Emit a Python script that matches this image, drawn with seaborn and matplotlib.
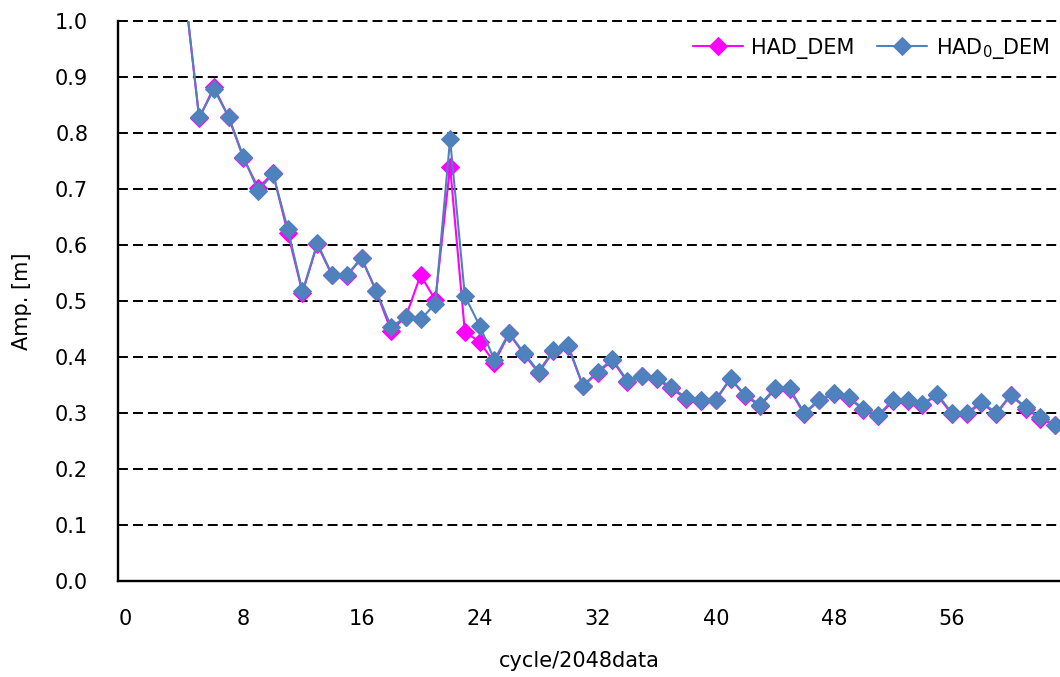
import numpy as np
import pandas as pd
import matplotlib
matplotlib.use("Agg")
import matplotlib.pyplot as plt
import seaborn as sns

# cycle index (0..63) and amplitude [m] of the two estimates
cycles = list(range(64))
had_dem = [2.90, 2.10, 1.60, 1.25, 1.06,
           0.826, 0.882, 0.828, 0.755, 0.702, 0.728, 0.622, 0.515, 0.601, 0.546,
           0.545, 0.576, 0.517, 0.447, 0.472, 0.546, 0.502, 0.740, 0.445, 0.427,
           0.390, 0.442, 0.405, 0.372, 0.410, 0.419, 0.348, 0.372, 0.394, 0.356,
           0.366, 0.360, 0.344, 0.325, 0.321, 0.323, 0.361, 0.330, 0.313, 0.342,
           0.342, 0.298, 0.323, 0.334, 0.327, 0.306, 0.294, 0.321, 0.321, 0.315,
           0.332, 0.298, 0.298, 0.318, 0.298, 0.332, 0.308, 0.290, 0.278]
had0_dem = [2.90, 2.10, 1.60, 1.25, 1.06,
            0.828, 0.878, 0.829, 0.757, 0.697, 0.727, 0.629, 0.517, 0.603, 0.547,
            0.546, 0.577, 0.518, 0.454, 0.471, 0.467, 0.495, 0.789, 0.509, 0.456,
            0.395, 0.443, 0.407, 0.374, 0.412, 0.421, 0.349, 0.374, 0.396, 0.358,
            0.366, 0.362, 0.346, 0.327, 0.323, 0.324, 0.362, 0.332, 0.315, 0.344,
            0.344, 0.300, 0.324, 0.335, 0.328, 0.308, 0.296, 0.323, 0.323, 0.316,
            0.334, 0.300, 0.300, 0.320, 0.300, 0.333, 0.310, 0.292, 0.279]
xtick_labels = ["0", "8", "16", "24", "32", "40", "48", "56"]
yticks = [0.0, 0.1, 0.2, 0.3, 0.4, 0.5, 0.6, 0.7, 0.8, 0.9, 1.0]

sns.set_style("white")
plt.rcParams["font.family"] = ["DejaVu Sans"]
plt.rcParams["mathtext.fontset"] = "dejavusans"
for key in ["text.color", "axes.labelcolor", "xtick.color", "ytick.color"]:
    plt.rcParams[key] = "black"

FS = 15
MAGENTA = "#FF00FF"
BLUE = "#4F81BD"

fig = plt.figure(figsize=(10.60, 6.77), dpi=100)
W, H = 1060, 677
x0, x1 = 118, 1062.6
y0, y1 = 21, 581
ax = fig.add_axes([x0 / W, 1 - y1 / H, (x1 - x0) / W, (y1 - y0) / H])

df = pd.DataFrame({"cycle": cycles, "HAD_DEM": had_dem, "HAD0_DEM": had0_dem})

sns.lineplot(data=df, x="cycle", y="HAD_DEM", ax=ax, color=MAGENTA, lw=1.5,
             marker="D", markersize=9.5, markeredgecolor=MAGENTA,
             markerfacecolor=MAGENTA, label="HAD_DEM", zorder=3)
sns.lineplot(data=df, x="cycle", y="HAD0_DEM", ax=ax, color=BLUE, lw=1.5,
             marker="D", markersize=9.5, markeredgecolor=BLUE,
             markerfacecolor=BLUE, label=r"HAD$_\mathrm{0}$_DEM", zorder=4)

ax.set_xlim(-0.5, 63.5)
ax.set_ylim(0, 1.0)

# dashed horizontal gridlines
for yv in yticks[1:]:
    ax.axhline(yv, color="black", lw=1.4, ls=(0, (5.1, 2.6)), zorder=1, clip_on=False)

# category-style axis: labels at centres, ticks between categories
ax.set_xticks([0, 8, 16, 24, 32, 40, 48, 56])
ax.set_xticklabels(xtick_labels, fontsize=FS)
ax.set_xticks([7.5, 15.5, 23.5, 31.5, 39.5, 47.5, 55.5], minor=True)
ax.tick_params(axis="x", which="major", length=0, pad=20)
ax.tick_params(axis="x", which="minor", direction="in", length=6, width=1.4, color="black")
ax.set_yticks(yticks)
ax.set_yticklabels([f"{v:.1f}" for v in yticks], fontsize=FS)
ax.tick_params(axis="y", direction="in", length=5, width=1.4, pad=21.5, color="black")

for side in ["top", "right"]:
    ax.spines[side].set_visible(False)
for side in ["left", "bottom"]:
    ax.spines[side].set_color("black")
    ax.spines[side].set_linewidth(1.7)

ax.set_xlabel("cycle/2048data", fontsize=FS)
ax.set_ylabel("Amp. [m]", fontsize=FS)
ax.xaxis.set_label_coords((579 - x0) / (x1 - x0), -(651 - y1) / (y1 - y0))
ax.yaxis.set_label_coords(-(118 - 32) / (x1 - x0), 0.5)

leg = ax.legend(loc="upper right", bbox_to_anchor=((1064 - x0) / (x1 - x0), 1.0 + 0 / (y1 - y0)),
                ncol=2, frameon=False, fontsize=FS, handlelength=2.4,
                handletextpad=0.4, columnspacing=1.1, borderaxespad=0.3)

fig.savefig("out.png", dpi=100)
